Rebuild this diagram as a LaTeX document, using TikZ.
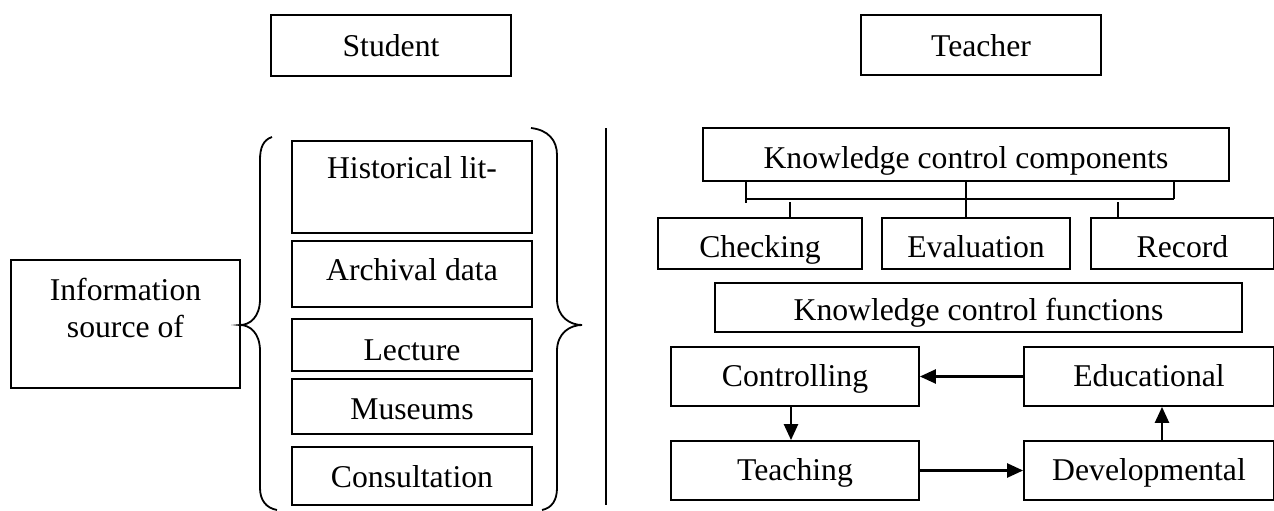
\documentclass[tikz,border=0pt]{standalone}
\usepackage{fontspec}
\setmainfont{Liberation Serif}
\usetikzlibrary{arrows.meta}
\begin{document}
\begin{tikzpicture}[x=1pt,y=-1pt,
  box/.style={draw, line width=1.8pt, inner sep=0pt, font=\fontsize{31.7}{38}\selectfont},
  bx/.style n args={3}{box, minimum width=#1pt, text height=#2pt, text depth=#3pt},
  brk/.style={line width=1.3pt},
  arr/.style={line width=2.4pt, -{Triangle[length=16pt,width=14pt]}},
  brace/.style={line width=1.8pt},
  sep/.style={line width=1.3pt}
]
\useasboundingbox (0,0) rectangle (1274,511);
% Student side
\node[bx={240}{42}{19}] (student) at (391,45.5) {Student};
\node[bx={229}{40}{88}, font=\fontsize{31.7}{37}\selectfont] (info) at (125.5,324)
  {\begin{tabular}[t]{@{}c@{}}Information\\source of\end{tabular}};
\node[bx={240}{37}{55}] (hist) at (412,187) {Historical lit-};
\node[bx={240}{39}{27}] (arch) at (412,274) {Archival data};
\node[bx={240}{41}{11}] (lect) at (412,345) {Lecture};
\node[bx={240}{40}{15}] (mus) at (412,406.5) {Museums};
\node[bx={240}{40}{18}] (cons) at (412,476) {Consultation};
% braces
\draw[brace] (272,137) .. controls (263,140) and (260,148) .. (260,160) -- (260,299)
  .. controls (260,317) and (250,325) .. (240,325)
  .. controls (250,325) and (260,333) .. (260,351) -- (260,488)
  .. controls (260,500) and (266,508) .. (277,510);
\draw[brace] (531,128) .. controls (548,130) and (557,140) .. (557,155) -- (557,299)
  .. controls (557,317) and (570,325) .. (582,325)
  .. controls (570,325) and (557,333) .. (557,351) -- (557,488)
  .. controls (557,500) and (552,508) .. (542,510);
% separator
\coordinate (septop) at (606,128);
\coordinate (sepbot) at (606,505);
\draw[sep] (septop) -- (sepbot);
% Teacher side
\node[bx={240}{42}{18}] (teacher) at (981,45) {Teacher};
\node[bx={526}{40}{13}] (kcc) at (966,154.5) {Knowledge control components};
\node[bx={204}{39}{12}] (check) at (760,243.5) {Checking};
\node[bx={188}{39}{12}] (eval) at (976,243.5) {Evaluation};
\node[bx={183}{39}{12}] (record) at (1182.5,243.5) {Record};
\node[bx={527}{37}{12}] (kcf) at (978.5,307.5) {Knowledge control functions};
\node[bx={248}{39}{20}] (ctrl) at (795,376.5) {Controlling};
\node[bx={250}{39}{20}] (educ) at (1149,376.5) {Educational};
\node[bx={248}{39}{20}] (teach) at (795,470.5) {Teaching};
\node[bx={250}{39}{20}] (dev) at (1149,470.5) {Developmental};
% component bracket
\coordinate (bl) at (746,199);
\coordinate (br) at (1174,199);
\coordinate (ltop) at (746,182);
\coordinate (lbot) at (746,203);
\coordinate (rtop) at (1174,181);
\coordinate (ct) at (790,202);
\coordinate (rt) at (1118,202);
\draw[brk] (bl) -- (br);
\draw[brk] (ltop) -- (lbot);
\draw[brk] (rtop) -- (br);
\draw[brk] (kcc.south) -- (kcc.south |- eval.north);
\draw[brk] (ct) -- (ct |- check.north);
\draw[brk] (rt) -- (rt |- record.north);
% function arrows
\draw[arr] (educ.west) -- (ctrl.east);
\draw[arr] ([xshift=-4pt]ctrl.south) -- ([xshift=-4pt]teach.north);
\draw[arr] (teach.east) -- (dev.west);
\draw[arr] ([xshift=13pt]dev.north) -- ([xshift=13pt]educ.south);
\end{tikzpicture}
\end{document}
